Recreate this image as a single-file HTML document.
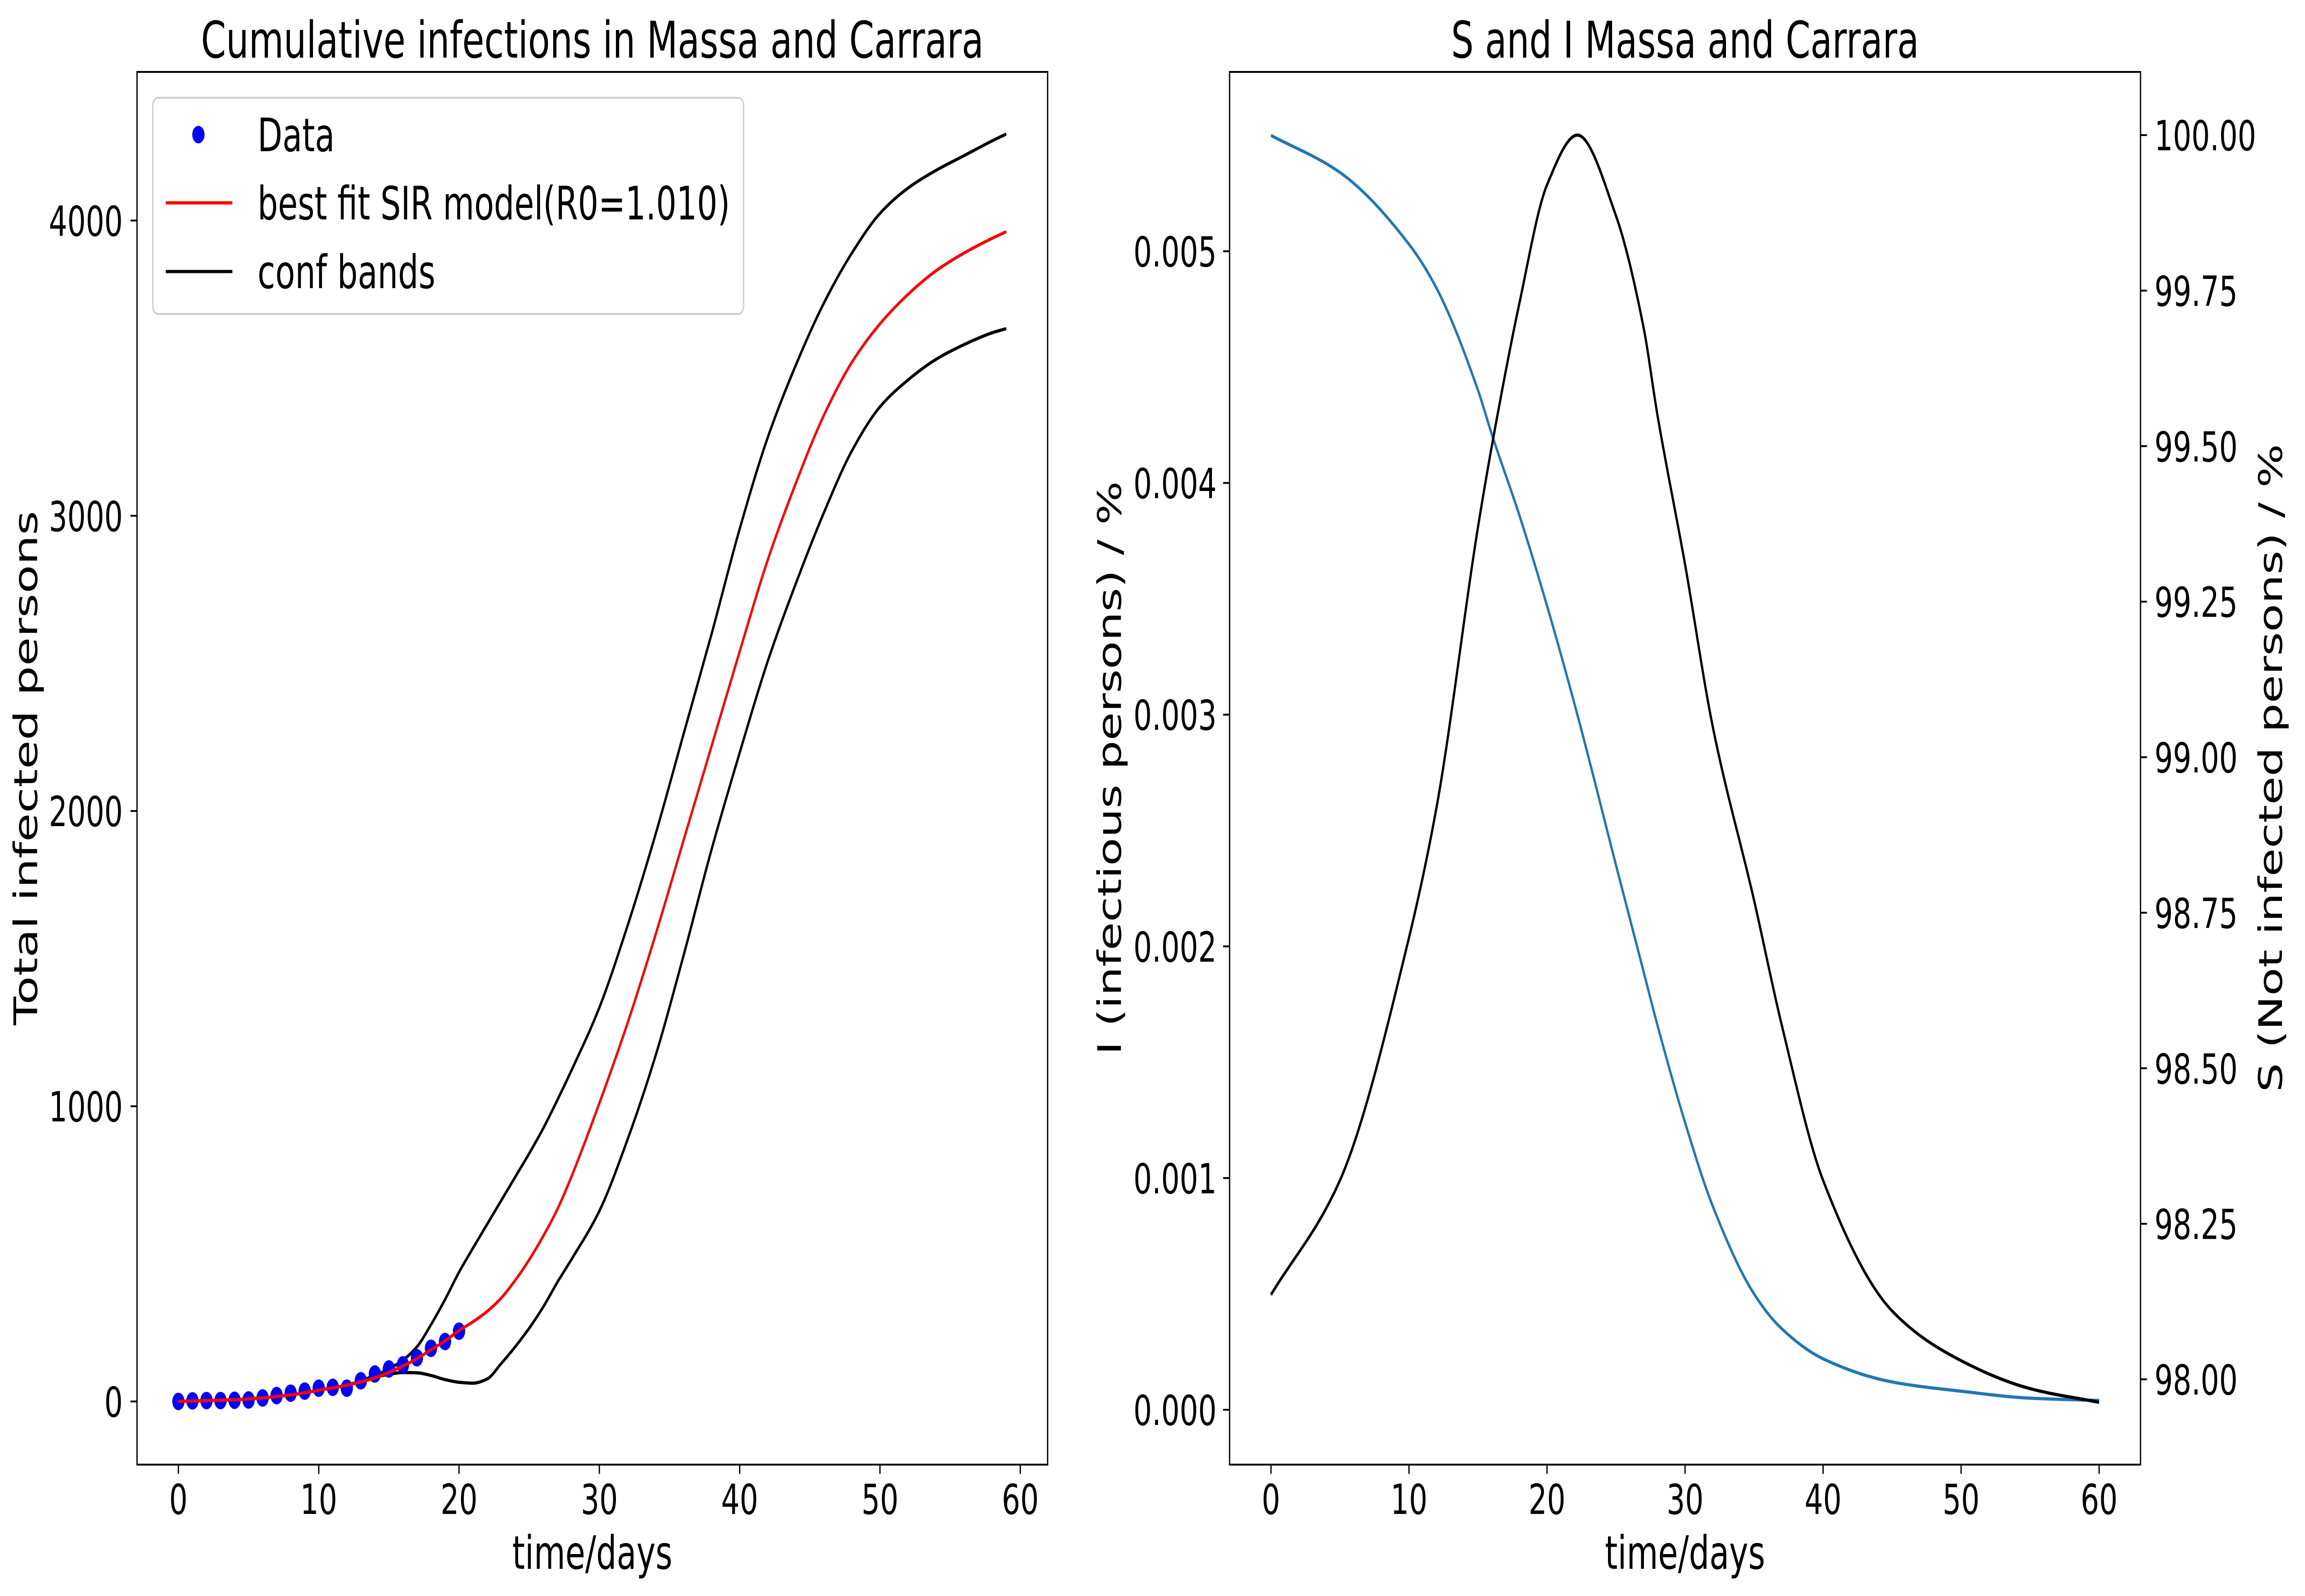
<!DOCTYPE html>
<html><head><meta charset="utf-8"><style>
html,body{margin:0;padding:0;background:#fff;width:100%;height:100%;overflow:hidden;}
svg{display:block;width:100vw;height:100vh;font-family:"DejaVu Sans","Liberation Sans",sans-serif;}
</style></head><body>
<svg id="chart" xmlns="http://www.w3.org/2000/svg" viewBox="0 0 7133 3462" preserveAspectRatio="none" overflow="hidden">
<rect width="7133" height="3462" fill="#fff"/>
<g id="left"></g>
<g id="right"></g>
</svg>
<script>
// ---------- Left chart data ----------
const dataDays = [0,1,2,3,4,5,6,7,8,9,10,11,12,13,14,15,16,17,18,19,20];
const dataCases = [0,2,3,3,4,5,12,20,28,35,45,48,45,70,93,110,124,148,180,203,238];
const modelDays = [0,2,4,6,8,10,12,14,15,16,17,18,19,20,21,22,23,24,25,26,27,28,30,32,34,36,38,40,42,44,46,48,50,52,54,56,58,59];
const fitValues = [0,3,6,12,22,38,55,80,98,120,145,175,205,240,270,305,350,410,480,560,650,760,1010,1280,1580,1900,2220,2540,2850,3110,3340,3520,3650,3750,3830,3890,3940,3962];
const upperBand = [0,3,6,12,22,38,55,88,110,140,185,260,345,438,520,600,680,760,840,925,1020,1120,1334,1610,1920,2260,2600,2955,3265,3510,3720,3890,4024,4110,4170,4220,4270,4293];
const lowerBand = [0,3,6,12,22,38,55,82,92,98,97,88,74,65,62,76,128,185,248,320,403,480,645,886,1170,1510,1870,2197,2507,2770,3010,3220,3369,3460,3530,3580,3620,3634];
const leftXTicks = [0,10,20,30,40,50,60];
const leftYTicks = [0,1000,2000,3000,4000];
// ---------- Right chart data ----------
const siDays = [0,5,10,12,15,16,18,20,22.2,25,27,28,30,32,35,37,40,45,50,55,60];
const infectious = [0.0055,0.00534,0.00503,0.00484,0.0044,0.00421,0.00386,0.00347,0.003,0.00235,0.00189,0.00166,0.00124,0.00088,0.0005,0.00035,0.00022,0.00012,0.00008,0.00005,0.00004];
const susceptible = [98.136,98.32,98.71,98.92,99.37,99.5,99.73,99.92,100.0,99.87,99.69,99.55,99.31,99.05,98.77,98.57,98.32,98.11,98.03,97.985,97.963];
const rightXTicks = [0,10,20,30,40,50,60];
const iTicks = [0,0.001,0.002,0.003,0.004,0.005];
const iTickLabels = ["0.000","0.001","0.002","0.003","0.004","0.005"];
const sTicks = [98,98.25,98.5,98.75,99,99.25,99.5,99.75,100];
const sTickLabels = ["98.00","98.25","98.50","98.75","99.00","99.25","99.50","99.75","100.00"];

const NS="http://www.w3.org/2000/svg";
const K=1;
function mk(parent,tag,attrs,text){const e=document.createElementNS(NS,tag);for(const k in attrs)e.setAttribute(k,attrs[k]);if(text!==undefined)e.textContent=text;parent.appendChild(e);return e;}
function txt(parent,x,y,rot,attrs,text){
  const a=Object.assign({},attrs);
  a.x=0;a.y=0;
  a.transform='translate('+x+','+y+') scale('+(1/K)+',1)'+(rot?' rotate('+rot+')':'');
  return mk(parent,'text',a,text);
}
function dot(parent,cx,cy,r,fill){return mk(parent,'ellipse',{cx:cx,cy:cy,rx:r/K,ry:r,fill:fill});}
function smooth(pts){const n=pts.length;const dx=[],dy=[],m=[];for(let i=0;i<n-1;i++){dx.push(pts[i+1][0]-pts[i][0]);dy.push(pts[i+1][1]-pts[i][1]);m.push(dy[i]/dx[i]);}
const t=[m[0]];for(let i=1;i<n-1;i++){if(m[i-1]*m[i]<=0)t.push(0);else{const w1=2*dx[i]+dx[i-1],w2=dx[i]+2*dx[i-1];t.push((w1+w2)/(w1/m[i-1]+w2/m[i]));}}t.push(m[n-2]);
let d="M"+pts[0][0].toFixed(1)+","+pts[0][1].toFixed(1);
for(let i=0;i<n-1;i++){const h=dx[i]/3;d+=" C"+(pts[i][0]+h).toFixed(1)+","+(pts[i][1]+t[i]*h).toFixed(1)+" "+(pts[i+1][0]-h).toFixed(1)+","+(pts[i+1][1]-t[i+1]*h).toFixed(1)+" "+pts[i+1][0].toFixed(1)+","+pts[i+1][1].toFixed(1);}return d;}

// ---------- LEFT ----------
const L=document.getElementById('left');
const LX0=424,LX1=3242,TOP=156,BOT=3177;
const lx=v=>LX0+(v+2.95)*(LX1-LX0)/64.9;
const ly=v=>3040-v*0.6404;
function line(g,xs,ys,fx,fy,color,name){const p=mk(g,'path',{d:smooth(xs.map((x,i)=>[fx(x),fy(ys[i])])),fill:'none',stroke:color,'stroke-width':7,'stroke-linejoin':'round'});return p;}
line(L,modelDays,upperBand,lx,ly,'#000','upper-conf-band');
line(L,modelDays,lowerBand,lx,ly,'#000','lower-conf-band');
dataDays.forEach((d,i)=>{const c=dot(L,lx(d),ly(dataCases[i]),19,'#0000ff');

});
line(L,modelDays,fitValues,lx,ly,'#ff0000','best-fit-sir-line');
mk(L,'rect',{x:LX0,y:TOP,width:LX1-LX0,height:BOT-TOP,fill:'none',stroke:'#000','stroke-width':4,});
leftXTicks.forEach(t=>{const g=mk(L,'g',{});
mk(g,'line',{x1:lx(t),x2:lx(t),y1:BOT,y2:BOT+20,stroke:'#000','stroke-width':4});
txt(g,lx(t),3284,0,{'font-size':90,'text-anchor':'middle'},String(t));});
leftYTicks.forEach(t=>{const g=mk(L,'g',{});
mk(g,'line',{x1:LX0-20,x2:LX0,y1:ly(t),y2:ly(t),stroke:'#000','stroke-width':4});
txt(g,380,ly(t)+33,0,{'font-size':90,'text-anchor':'end'},String(t));});
txt(L,(LX0+LX1)/2,125,0,{'font-size':110,'text-anchor':'middle',textLength:2422,lengthAdjust:'spacingAndGlyphs',},'Cumulative infections in Massa and Carrara');
txt(L,(LX0+LX1)/2,3403,0,{'font-size':100,'text-anchor':'middle',},'time/days');
txt(L,115,1666,-90,{'font-size':100,'text-anchor':'middle',textLength:1116,lengthAdjust:'spacingAndGlyphs',},'Total infected persons');
const lg=mk(L,'g',{});
mk(lg,'rect',{x:473,y:212,width:1828,height:469,rx:16,fill:'#fff','fill-opacity':0.85,stroke:'#cccccc','stroke-width':4});
const e1=mk(lg,'g',{});
dot(e1,614,292,19,'#0000ff');
txt(e1,797,328,0,{'font-size':100},'Data');
const e2=mk(lg,'g',{});
mk(e2,'line',{x1:513,x2:719,y1:440,y2:440,stroke:'#ff0000','stroke-width':7});
txt(e2,797,476,0,{'font-size':100,textLength:1462,lengthAdjust:'spacingAndGlyphs'},'best fit SIR model(R0=1.010)');
const e3=mk(lg,'g',{});
mk(e3,'line',{x1:513,x2:719,y1:589,y2:589,stroke:'#000','stroke-width':7});
txt(e3,797,625,0,{'font-size':100},'conf bands');

// ---------- RIGHT ----------
const R=document.getElementById('right');
const RX0=3805,RX1=6624;
const rx=v=>RX0+(v+3)*(RX1-RX0)/66;
const iy=v=>3058-v*502600;
const sy=v=>293+(100-v)*1349.5;
line(R,siDays,infectious,rx,iy,'#1f77b4','infectious-line');
line(R,siDays,susceptible,rx,sy,'#000','susceptible-line');
mk(R,'rect',{x:RX0,y:TOP,width:RX1-RX0,height:BOT-TOP,fill:'none',stroke:'#000','stroke-width':4,});
rightXTicks.forEach(t=>{const g=mk(R,'g',{});
mk(g,'line',{x1:rx(t),x2:rx(t),y1:BOT,y2:BOT+20,stroke:'#000','stroke-width':4});
txt(g,rx(t),3284,0,{'font-size':90,'text-anchor':'middle'},String(t));});
iTicks.forEach((t,i)=>{const g=mk(R,'g',{});
mk(g,'line',{x1:RX0-20,x2:RX0,y1:iy(t),y2:iy(t),stroke:'#000','stroke-width':4});
txt(g,3765,iy(t)+33,0,{'font-size':90,'text-anchor':'end'},iTickLabels[i]);});
sTicks.forEach((t,i)=>{const g=mk(R,'g',{});
mk(g,'line',{x1:RX1,x2:RX1+20,y1:sy(t),y2:sy(t),stroke:'#000','stroke-width':4});
txt(g,6667,sy(t)+33,0,{'font-size':90,'text-anchor':'start'},sTickLabels[i]);});
txt(R,(RX0+RX1)/2,125,0,{'font-size':110,'text-anchor':'middle',},'S and I Massa and Carrara');
txt(R,(RX0+RX1)/2,3403,0,{'font-size':100,'text-anchor':'middle',},'time/days');
txt(R,3469,1666,-90,{'font-size':100,'text-anchor':'middle',},'I (infectious persons) / %');
txt(R,7062,1666,-90,{'font-size':100,'text-anchor':'middle',},'S (Not infected persons) / %');
</script>
</body></html>
